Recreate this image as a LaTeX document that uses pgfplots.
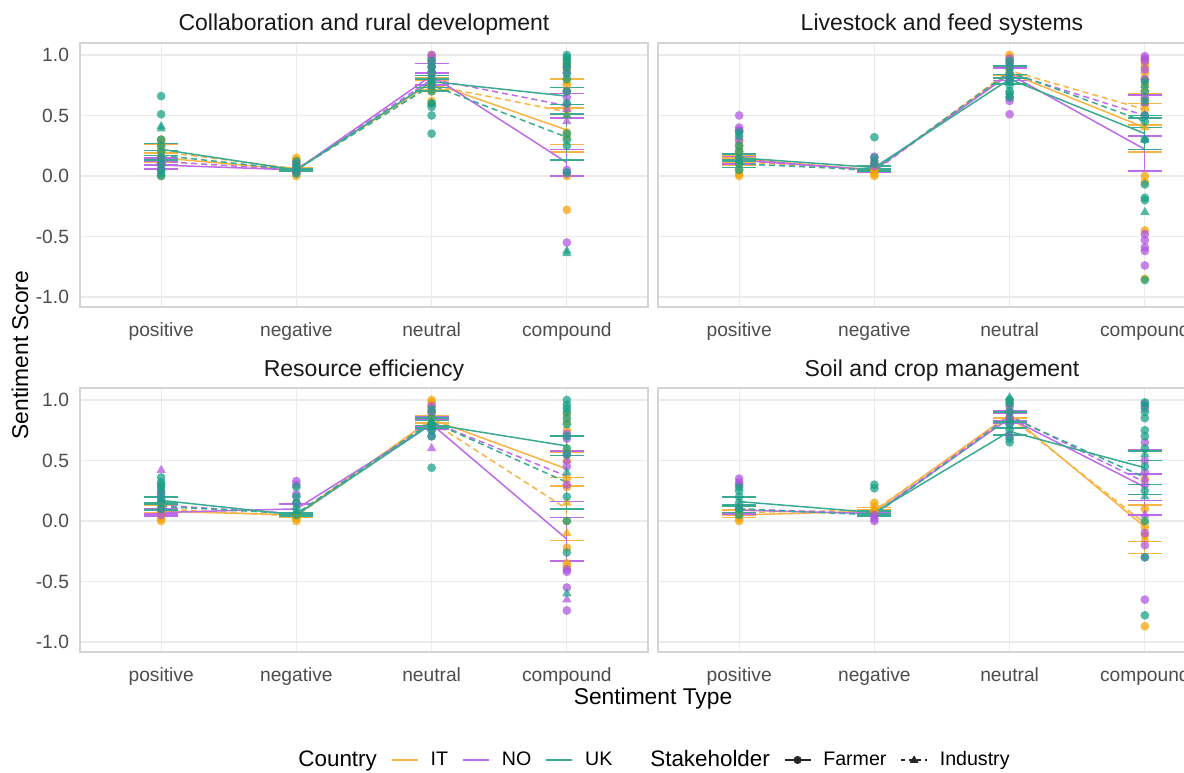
\documentclass[border=0pt]{standalone}
\usepackage{pgfplots}
\pgfplotsset{compat=1.18}
\usepackage{fontspec}
\setmainfont{Liberation Sans}
\definecolor{cIT}{HTML}{F5A300}
\definecolor{cNO}{HTML}{B055E0}
\definecolor{cUK}{HTML}{17A085}
\definecolor{lIT}{HTML}{F8B445}
\definecolor{lNO}{HTML}{BE6BEA}
\definecolor{lUK}{HTML}{3AAA92}
\definecolor{gridc}{HTML}{EBEBEB}
\definecolor{borderc}{HTML}{D4D4D4}
\definecolor{tickc}{HTML}{4D4D4D}
\pgfplotsset{
 facet/.style={scale only axis, width=284pt, height=132pt,
   xmin=0.4, xmax=4.6, ymin=-1.083, ymax=1.099,
   xtick={1,2,3,4}, xticklabels={positive,negative,neutral,compound},
   ytick={-1,-0.5,0,0.5,1},
   grid=major, grid style={gridc, line width=0.6pt},
   axis line style={borderc, line width=0.6pt},
   major tick length=0pt,
   tick label style={font=\fontsize{9.6}{11}\selectfont, color=tickc},
   xticklabel style={yshift=-4.5pt},
   yticklabel style={xshift=-2pt},
   title style={font=\fontsize{11.5}{13}\selectfont, color=black!90, at={(0.5,1)}, anchor=base, yshift=0pt},
 },
 leftfacet/.style={facet, yticklabels={-1.0,-0.5,0.0,0.5,1.0}},
 rightfacet/.style={facet, yticklabels={}},
 pF/.style={only marks, color=#1, mark=*, mark size=2.2pt, mark options={draw opacity=0, fill=#1, fill opacity=0.72}},
 pI/.style={only marks, color=#1, mark=triangle*, mark size=2.7pt, mark options={draw opacity=0, fill=#1, fill opacity=0.72}},
 lF/.style={color=#1, line width=0.75pt, mark=none, solid,
   /pgfplots/error bars/y dir=both, /pgfplots/error bars/y explicit,
   /pgfplots/error bars/error mark options={rotate=90, mark size=8.5pt, line width=0.8pt}},
 lI/.style={color=#1, line width=0.75pt, mark=none, dash pattern=on 3pt off 2pt,
   /pgfplots/error bars/y dir=both, /pgfplots/error bars/y explicit,
   /pgfplots/error bars/error mark options={rotate=90, mark size=8.5pt, line width=0.8pt}},
 lineleg/.style={legend image code/.code={\draw[##1] (0pt,0pt) -- (13pt,0pt);}},
 farmerleg/.style={legend image code/.code={\draw[black!85, line width=0.7pt] (0pt,0pt) -- (13pt,0pt); \fill[black!85] (6.5pt,0pt) circle (1.8pt);}},
 industryleg/.style={legend image code/.code={\draw[black!85, line width=0.7pt, dash pattern=on 2pt off 2pt] (0pt,0pt) -- (13pt,0pt); \fill[black!85] (4.6pt,-1.3pt) -- (8.4pt,-1.3pt) -- (6.5pt,1.9pt) -- cycle;}},
}
\begin{document}
\begin{tikzpicture}
\fill[white] (0,0) rectangle (592pt,386pt);

% ---------------- Panel 1 ----------------
\begin{axis}[leftfacet, at={(40pt,232.5pt)}, anchor=south west, title={Collaboration and rural development}]
\addplot[pF=cIT] coordinates {(1,0.30)(1,0.28)(1,0.22)(1,0.15)(1,0.10)(1,0.0)(2,0.15)(2,0.13)(2,0.10)(2,0.07)(2,0.03)(2,0.0)(3,1.0)(3,0.98)(3,0.95)(3,0.90)(3,0.85)(3,0.80)(3,0.75)(3,0.72)(3,0.70)(3,0.62)(3,0.60)(4,0.95)(4,0.92)(4,0.88)(4,0.80)(4,0.75)(4,0.70)(4,0.55)(4,0.36)(4,0.32)(4,0.0)(4,-0.28)};
\addplot[pI=cIT] coordinates {(1,0.26)(1,0.18)(2,0.05)(3,0.74)(3,0.82)(4,0.78)(4,0.5)};
\addplot[pF=cNO] coordinates {(1,0.14)(1,0.10)(1,0.08)(1,0.05)(2,0.10)(2,0.06)(2,0.03)(3,1.0)(3,0.97)(3,0.93)(3,0.90)(3,0.85)(3,0.80)(4,0.90)(4,0.85)(4,0.70)(4,0.65)(4,0.05)(4,0.02)(4,-0.55)};
\addplot[pI=cNO] coordinates {(1,0.12)(3,0.75)(3,0.88)(4,0.55)(4,0.45)(4,0.60)};
\addplot[pF=cUK] coordinates {(1,0.66)(1,0.51)(1,0.30)(1,0.25)(1,0.20)(1,0.15)(1,0.10)(1,0.05)(1,0.02)(1,0.0)(2,0.12)(2,0.08)(2,0.05)(2,0.02)(3,0.95)(3,0.90)(3,0.85)(3,0.80)(3,0.75)(3,0.70)(3,0.60)(3,0.57)(3,0.50)(3,0.35)(4,1.0)(4,0.98)(4,0.96)(4,0.93)(4,0.90)(4,0.85)(4,0.80)(4,0.70)(4,0.60)(4,0.35)(4,0.30)(4,0.25)(4,0.03)};
\addplot[pI=cUK] coordinates {(1,0.41)(1,0.39)(3,0.78)(3,0.60)(4,0.5)(4,-0.62)(4,-0.64)};
\addplot[lF=lIT] coordinates {(1,0.15) +- (0,0.04) (2,0.05) +- (0,0.01) (3,0.77) +- (0,0.04) (4,0.38) +- (0,0.18)};
\addplot[lI=lIT] coordinates {(1,0.20) +- (0,0.06) (2,0.06) +- (0,0.01) (3,0.75) +- (0,0.04) (4,0.53) +- (0,0.27)};
\addplot[lF=lNO] coordinates {(1,0.09) +- (0,0.03) (2,0.05) +- (0,0.01) (3,0.83) +- (0,0.10) (4,0.11) +- (0,0.11)};
\addplot[lI=lNO] coordinates {(1,0.12) +- (0,0.03) (2,0.05) +- (0,0.01) (3,0.80) +- (0,0.05) (4,0.58) +- (0,0.10)};
\addplot[lF=lUK] coordinates {(1,0.22) +- (0,0.05) (2,0.05) +- (0,0.01) (3,0.78) +- (0,0.05) (4,0.66) +- (0,0.07)};
\addplot[lI=lUK] coordinates {(1,0.17) +- (0,0.04) (2,0.05) +- (0,0.01) (3,0.75) +- (0,0.05) (4,0.32) +- (0,0.19)};
\end{axis}

% ---------------- Panel 2 ----------------
\begin{axis}[rightfacet, at={(329pt,232.5pt)}, anchor=south west, title={Livestock and feed systems}]
\addplot[pF=cIT] coordinates {(1,0.28)(1,0.25)(1,0.22)(1,0.20)(1,0.15)(1,0.10)(1,0.05)(1,0.02)(1,0.0)(2,0.10)(2,0.05)(2,0.02)(2,0.0)(3,1.0)(3,0.98)(3,0.95)(3,0.92)(3,0.88)(3,0.85)(4,0.96)(4,0.93)(4,0.90)(4,0.85)(4,0.80)(4,0.75)(4,0.70)(4,0.60)(4,0.55)(4,0.0)(4,-0.05)(4,-0.45)(4,-0.85)};
\addplot[pI=cIT] coordinates {(1,0.16)(2,0.06)(3,0.90)(4,0.65)(4,0.40)};
\addplot[pF=cNO] coordinates {(1,0.50)(1,0.40)(1,0.38)(1,0.37)(1,0.30)(2,0.16)(2,0.12)(2,0.08)(3,0.97)(3,0.93)(3,0.90)(3,0.80)(3,0.65)(3,0.62)(3,0.51)(4,0.99)(4,0.97)(4,0.95)(4,0.88)(4,0.80)(4,0.65)(4,0.50)(4,-0.48)(4,-0.53)(4,-0.59)(4,-0.62)(4,-0.74)};
\addplot[pI=cNO] coordinates {(1,0.14)(3,0.85)(4,0.60)(4,0.30)};
\addplot[pF=cUK] coordinates {(1,0.36)(1,0.33)(1,0.25)(1,0.20)(1,0.15)(1,0.10)(1,0.05)(2,0.32)(2,0.15)(2,0.10)(3,0.95)(3,0.90)(3,0.85)(3,0.78)(3,0.75)(3,0.70)(3,0.68)(3,0.65)(4,0.78)(4,0.70)(4,0.62)(4,0.50)(4,0.45)(4,0.30)(4,-0.07)(4,-0.18)(4,-0.20)(4,-0.86)};
\addplot[pI=cUK] coordinates {(1,0.12)(3,0.82)(4,0.75)(4,0.30)(4,-0.30)};
\addplot[lF=lIT] coordinates {(1,0.14) +- (0,0.03) (2,0.05) +- (0,0.01) (3,0.85) +- (0,0.04) (4,0.40) +- (0,0.20)};
\addplot[lI=lIT] coordinates {(1,0.12) +- (0,0.03) (2,0.04) +- (0,0.01) (3,0.87) +- (0,0.04) (4,0.55) +- (0,0.13)};
\addplot[lF=lNO] coordinates {(1,0.13) +- (0,0.03) (2,0.05) +- (0,0.01) (3,0.84) +- (0,0.05) (4,0.22) +- (0,0.18)};
\addplot[lI=lNO] coordinates {(1,0.14) +- (0,0.04) (2,0.04) +- (0,0.01) (3,0.85) +- (0,0.04) (4,0.50) +- (0,0.17)};
\addplot[lF=lUK] coordinates {(1,0.15) +- (0,0.03) (2,0.07) +- (0,0.01) (3,0.80) +- (0,0.04) (4,0.35) +- (0,0.13)};
\addplot[lI=lUK] coordinates {(1,0.10) +- (0,0.03) (2,0.05) +- (0,0.01) (3,0.86) +- (0,0.05) (4,0.45) +- (0,0.05)};
\end{axis}

% ---------------- Panel 3 ----------------
\begin{axis}[leftfacet, at={(40pt,60pt)}, anchor=south west, title={Resource efficiency}]
\addplot[pF=cIT] coordinates {(1,0.12)(1,0.08)(1,0.05)(1,0.02)(1,0.0)(2,0.05)(2,0.02)(2,0.0)(3,1.0)(3,0.98)(3,0.95)(3,0.90)(3,0.88)(4,0.88)(4,0.82)(4,0.75)(4,0.50)(4,0.35)(4,0.28)(4,0.0)(4,-0.22)(4,-0.35)(4,-0.38)};
\addplot[pI=cIT] coordinates {(1,0.10)(2,0.04)(3,0.85)(4,0.60)(4,0.15)(4,-0.10)};
\addplot[pF=cNO] coordinates {(1,0.22)(1,0.18)(1,0.10)(1,0.05)(2,0.33)(2,0.30)(2,0.22)(2,0.15)(3,0.95)(3,0.90)(3,0.75)(3,0.70)(4,0.72)(4,0.68)(4,0.55)(4,0.45)(4,0.30)(4,-0.40)(4,-0.42)(4,-0.55)(4,-0.74)};
\addplot[pI=cNO] coordinates {(1,0.42)(1,0.25)(3,0.60)(3,0.80)(4,0.50)(4,-0.65)};
\addplot[pF=cUK] coordinates {(1,0.36)(1,0.32)(1,0.30)(1,0.28)(1,0.25)(1,0.20)(1,0.15)(1,0.10)(2,0.28)(2,0.20)(2,0.15)(2,0.10)(2,0.05)(3,0.92)(3,0.85)(3,0.80)(3,0.78)(3,0.75)(3,0.70)(3,0.44)(4,1.0)(4,0.96)(4,0.93)(4,0.90)(4,0.85)(4,0.80)(4,0.70)(4,0.60)(4,0.55)(4,0.20)(4,0.0)(4,-0.26)};
\addplot[pI=cUK] coordinates {(1,0.18)(2,0.08)(3,0.82)(4,0.40)(4,-0.60)};
\addplot[lF=lIT] coordinates {(1,0.08) +- (0,0.02) (2,0.05) +- (0,0.01) (3,0.84) +- (0,0.03) (4,0.43) +- (0,0.14)};
\addplot[lI=lIT] coordinates {(1,0.10) +- (0,0.03) (2,0.04) +- (0,0.01) (3,0.82) +- (0,0.03) (4,0.10) +- (0,0.26)};
\addplot[lF=lNO] coordinates {(1,0.07) +- (0,0.03) (2,0.10) +- (0,0.04) (3,0.80) +- (0,0.04) (4,-0.15) +- (0,0.18)};
\addplot[lI=lNO] coordinates {(1,0.13) +- (0,0.07) (2,0.06) +- (0,0.01) (3,0.82) +- (0,0.04) (4,0.37) +- (0,0.21)};
\addplot[lF=lUK] coordinates {(1,0.17) +- (0,0.03) (2,0.05) +- (0,0.01) (3,0.80) +- (0,0.03) (4,0.62) +- (0,0.08)};
\addplot[lI=lUK] coordinates {(1,0.12) +- (0,0.03) (2,0.06) +- (0,0.01) (3,0.82) +- (0,0.03) (4,0.32) +- (0,0.22)};
\end{axis}

% ---------------- Panel 4 ----------------
\begin{axis}[rightfacet, at={(329pt,60pt)}, anchor=south west, title={Soil and crop management}]
\addplot[pF=cIT] coordinates {(1,0.10)(1,0.05)(1,0.02)(1,0.0)(2,0.15)(2,0.12)(2,0.08)(3,0.98)(3,0.92)(3,0.85)(4,0.35)(4,0.10)(4,-0.05)(4,-0.12)(4,-0.87)};
\addplot[pI=cIT] coordinates {(1,0.06)(2,0.10)(3,0.88)(4,0.0)(4,-0.15)};
\addplot[pF=cNO] coordinates {(1,0.35)(1,0.32)(1,0.30)(2,0.05)(2,0.02)(2,0.0)(3,0.95)(3,0.90)(3,0.85)(3,0.80)(3,0.70)(4,0.97)(4,0.93)(4,0.65)(4,0.50)(4,0.40)(4,0.30)(4,-0.10)(4,-0.20)(4,-0.30)(4,-0.65)};
\addplot[pI=cNO] coordinates {(1,0.12)(3,0.86)(4,0.35)(4,0.05)};
\addplot[pF=cUK] coordinates {(1,0.28)(1,0.25)(1,0.20)(1,0.15)(1,0.10)(1,0.05)(2,0.30)(2,0.27)(3,1.0)(3,0.97)(3,0.90)(3,0.80)(3,0.75)(3,0.68)(3,0.65)(4,0.98)(4,0.95)(4,0.90)(4,0.85)(4,0.75)(4,0.70)(4,0.60)(4,0.45)(4,0.25)(4,0.0)(4,-0.30)(4,-0.78)};
\addplot[pI=cUK] coordinates {(1,0.10)(3,1.02)(3,0.84)(4,0.55)(4,0.20)};
\addplot[lF=lIT] coordinates {(1,0.05) +- (0,0.02) (2,0.08) +- (0,0.01) (3,0.88) +- (0,0.03) (4,-0.05) +- (0,0.22)};
\addplot[lI=lIT] coordinates {(1,0.07) +- (0,0.02) (2,0.09) +- (0,0.02) (3,0.86) +- (0,0.04) (4,-0.02) +- (0,0.15)};
\addplot[lF=lNO] coordinates {(1,0.09) +- (0,0.03) (2,0.06) +- (0,0.01) (3,0.85) +- (0,0.04) (4,0.28) +- (0,0.11)};
\addplot[lI=lNO] coordinates {(1,0.10) +- (0,0.03) (2,0.06) +- (0,0.01) (3,0.87) +- (0,0.04) (4,0.32) +- (0,0.27)};
\addplot[lF=lUK] coordinates {(1,0.16) +- (0,0.04) (2,0.07) +- (0,0.01) (3,0.74) +- (0,0.03) (4,0.44) +- (0,0.14)};
\addplot[lI=lUK] coordinates {(1,0.10) +- (0,0.03) (2,0.05) +- (0,0.01) (3,0.86) +- (0,0.04) (4,0.36) +- (0,0.14)};
\end{axis}

% ---------------- Legend ----------------
\begin{axis}[at={(40pt,60pt)}, anchor=south west, scale only axis, width=284pt, height=132pt,
  hide axis, xmin=0, xmax=1, ymin=0, ymax=1,
  legend columns=-1, lineleg,
  legend style={at={(1.0,-0.409)}, anchor=center, draw=none, fill=none,
    font=\fontsize{9.8}{11}\selectfont, inner sep=0pt,
    nodes={inner sep=0pt},
    /tikz/every odd column/.append style={column sep=6pt},
    /tikz/every even column/.append style={column sep=7pt}}]
\addlegendimage{empty legend}
\addlegendentry{\fontsize{11.2}{13}\selectfont Country}
\addlegendimage{lIT, line width=0.9pt}
\addlegendentry{IT}
\addlegendimage{lNO, line width=0.9pt}
\addlegendentry{NO}
\addlegendimage{lUK, line width=0.9pt}
\addlegendentry{UK}
\addlegendimage{empty legend}
\addlegendentry{\hspace*{6pt}\fontsize{11.2}{13}\selectfont Stakeholder}
\addlegendimage{farmerleg}
\addlegendentry{Farmer}
\addlegendimage{industryleg}
\addlegendentry{Industry}
\end{axis}

\node[font=\fontsize{11.4}{13}\selectfont] at (326.5pt,36.5pt) {Sentiment Type};
\node[font=\fontsize{11.4}{13}\selectfont, rotate=90] at (10pt,208.5pt) {Sentiment Score};

\pgfresetboundingbox
\useasboundingbox (0,0) rectangle (592pt,386pt);
\end{tikzpicture}
\end{document}
